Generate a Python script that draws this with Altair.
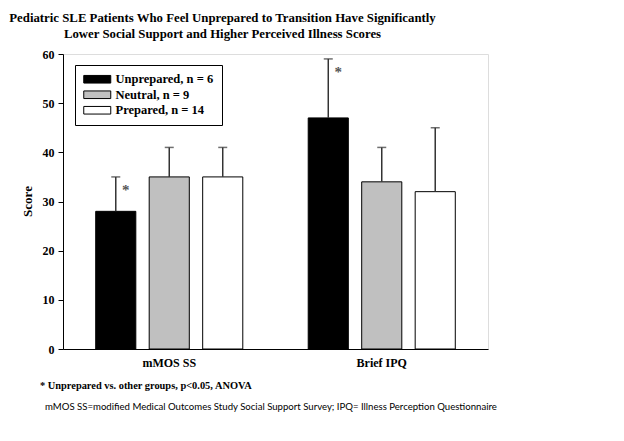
import altair as alt
import pandas as pd

SERIF = "Liberation Serif"
SANS = "Lato"

measures = ["mMOS SS", "Brief IPQ"]
groups = ["Unprepared, n = 6", "Neutral, n = 9", "Prepared, n = 14"]
fills = ["#000000", "#c0c0c0", "#ffffff"]
means_mmos = [28, 35, 35]
means_ipq = [47, 34, 32]
upper_mmos = [35, 41, 41]
upper_ipq = [59, 41, 45]
sig_mmos = ["*", "", ""]
sig_ipq = ["*", "", ""]
y_ticks = [0, 10, 20, 30, 40, 50, 60]
title_lines = [
    "Pediatric SLE Patients Who Feel Unprepared to Transition Have Significantly",
    "Lower Social Support and Higher Perceived Illness Scores",
]
footnote_sig = ["* Unprepared vs. other groups, p<0.05, ANOVA"]
footnote_abbr = ["mMOS SS=modified Medical Outcomes Study Social Support Survey; IPQ= Illness Perception Questionnaire"]

rows = []
for m, ms, us, ss in [("mMOS SS", means_mmos, upper_mmos, sig_mmos),
                      ("Brief IPQ", means_ipq, upper_ipq, sig_ipq)]:
    for g, v, u, s in zip(groups, ms, us, ss):
        rows.append(dict(measure=m, group=g, score=v, upper=u, sig=s))
df = pd.DataFrame(rows)

x = alt.X(
    "measure:N", sort=measures,
    scale=alt.Scale(paddingInner=0.245, paddingOuter=0.1225),
    axis=alt.Axis(title=None, ticks=False, labelAngle=0, labelPadding=8,
                  labelFont=SERIF, labelFontWeight="bold", labelFontSize=12,
                  labelColor="black", domainColor="black"),
)
xo = alt.XOffset("group:N", sort=groups,
                 scale=alt.Scale(paddingInner=0.25, paddingOuter=0.125))
y = alt.Y(
    "score:Q", scale=alt.Scale(domain=[0, 60], nice=False),
    axis=alt.Axis(values=y_ticks, title="Score", grid=False, tickSize=5,
                  tickColor="black", domainColor="black", labelPadding=4,
                  labelFont=SERIF, labelFontWeight="bold", labelFontSize=12,
                  labelColor="black", titleFont=SERIF, titleFontWeight="bold",
                  titleFontSize=13, titleColor="black", titleX=-36, titleY=147,
                  titleAngle=-90, titleAlign="center", titleBaseline="middle"),
)

sym = "M-3.375,-0.95H3.375V0.95H-3.375Z"
bars = alt.Chart(df).mark_bar(stroke="black", strokeWidth=1).encode(
    x=x, xOffset=xo, y=y,
    fill=alt.Fill(
        "group:N", sort=groups,
        scale=alt.Scale(domain=groups, range=fills),
        legend=alt.Legend(
            title=None, orient="none", legendX=12, legendY=11,
            strokeColor="black", fillColor="white", padding=8,
            symbolType=sym, symbolSize=64, symbolOffset=8,
            symbolStrokeColor="black",
            symbolStrokeWidth=1, labelFont=SERIF, labelFontWeight="bold",
            labelFontSize=12.5, labelColor="black", labelOffset=12,
            rowPadding=2.5, cornerRadius=0,
        ),
    ),
)

err = alt.Chart(df).mark_rule(color="#333333", strokeWidth=1.5).encode(
    x=x, xOffset=xo, y="score:Q", y2="upper:Q"
)
caps = alt.Chart(df).mark_tick(color="#333333", thickness=1.5, size=9).encode(
    x=x, xOffset=xo, y="upper:Q"
)
stars = alt.Chart(df).mark_text(
    dx=10, dy=13, baseline="middle", font=SERIF, fontWeight="bold",
    fontSize=15, color="#555555"
).encode(x=x, xOffset=xo, y="upper:Q", text="sig:N")

fn1 = alt.Chart(pd.DataFrame({"t": footnote_sig})).mark_text(
    align="left", baseline="middle", font=SERIF, fontWeight="bold",
    fontSize=10.4, color="black"
).encode(x=alt.value(-23), y=alt.value(332), text="t:N")
fn2 = alt.Chart(pd.DataFrame({"t": footnote_abbr})).mark_text(
    align="left", baseline="middle", font=SANS, fontSize=9.6, color="black"
).encode(x=alt.value(-18), y=alt.value(353), text="t:N")

chart = alt.layer(bars, err, caps, stars, fn1, fn2).properties(
    width=425, height=295,
    autosize=alt.AutoSizeParams(type="none"),
    padding={"left": 55, "top": 46, "right": 120, "bottom": 80},
    title=alt.Title(text=title_lines, anchor="middle", dx=-53, offset=7,
                    font=SERIF, fontSize=12.8, fontWeight="bold", lineHeight=16,
                    color="black"),
).configure_view(stroke="black", strokeWidth=1).configure(background="white")

chart.save("out.html", embed_options={"renderer": "svg", "actions": False})
